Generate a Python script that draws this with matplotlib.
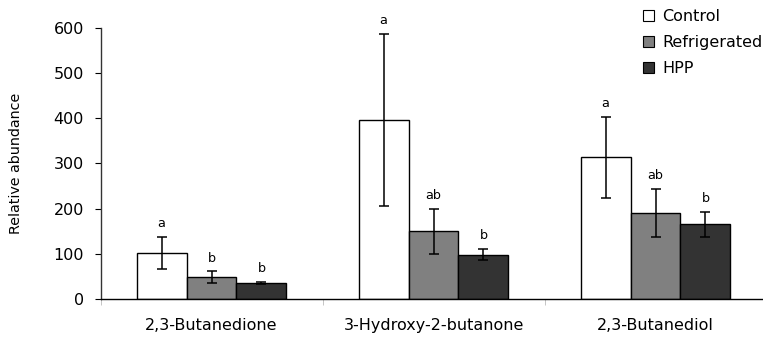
import matplotlib
matplotlib.use("Agg")
import matplotlib.pyplot as plt
from matplotlib.patches import Patch
import numpy as np

categories = ["2,3-Butanedione", "3-Hydroxy-2-butanone", "2,3-Butanediol"]
series = ["Control", "Refrigerated", "HPP"]
control = [102, 396, 314]
control_err = [35, 190, 90]
refrigerated = [48, 150, 191]
refrigerated_err = [13, 50, 53]
hpp = [35, 98, 165]
hpp_err = [2, 12, 27]
letters_control = ["a", "a", "a"]
letters_refrigerated = ["b", "ab", "ab"]
letters_hpp = ["b", "b", "b"]
yticks = [0, 100, 200, 300, 400, 500, 600]

plt.rcParams['font.family'] = ['DejaVu Sans']

W, H = 763, 338
fig = plt.figure(figsize=(W / 100, H / 100), dpi=100)
ax = fig.add_axes([100.5 / W, 39 / H, 666 / W, 271 / H])

vals = [control, refrigerated, hpp]
errs = [control_err, refrigerated_err, hpp_err]
lets = [letters_control, letters_refrigerated, letters_hpp]
colors = ["#ffffff", "#808080", "#333333"]
bw = 0.225
x = np.arange(len(categories))
for i in range(3):
    xs = x + (i - 1) * bw
    ax.bar(xs, vals[i], bw, color=colors[i], edgecolor="black", linewidth=1.0, zorder=2)
    ax.errorbar(xs, vals[i], yerr=errs[i], fmt="none", ecolor="black",
                elinewidth=1.1, capsize=3.5, capthick=1.1, zorder=3)
    for xi, v, e, l in zip(xs, vals[i], errs[i], lets[i]):
        ax.annotate(l, (xi, v + e), xytext=(0, 5), textcoords="offset points",
                    ha="center", va="bottom", fontsize=9.2)

ax.set_xlim(-0.5, 2.5)
ax.set_ylim(0, 600)
ax.set_yticks(yticks)
ax.tick_params(axis="y", labelsize=11.5, length=4, width=0.8, direction="out", pad=8)
ax.set_xticks(x)
ax.set_xticklabels(categories, fontsize=11.5)
ax.tick_params(axis="x", which="major", length=0, pad=14)
ax.set_xticks([-0.5, 0.5, 1.5, 2.5], minor=True)
ax.tick_params(axis="x", which="minor", length=4, color="#bbbbbb", direction="out")
for s in ["top", "right"]:
    ax.spines[s].set_visible(False)
ax.spines["left"].set_linewidth(1.0)
ax.spines["bottom"].set_linewidth(1.0)
ax.spines["left"].set_color("#333333")
ax.set_ylabel("Relative abundance", fontsize=10.3, labelpad=22)

handles = [Patch(facecolor=c, edgecolor="black", linewidth=0.8) for c in colors]
fig.legend(handles, series, loc="upper left", bbox_to_anchor=(643 / W, 1 - 9 / H),
           frameon=False, fontsize=11.5, handlelength=0.7, handleheight=0.7,
           handletextpad=0.5, labelspacing=0.68, borderpad=0, borderaxespad=0)

fig.savefig("out.png", dpi=100)
